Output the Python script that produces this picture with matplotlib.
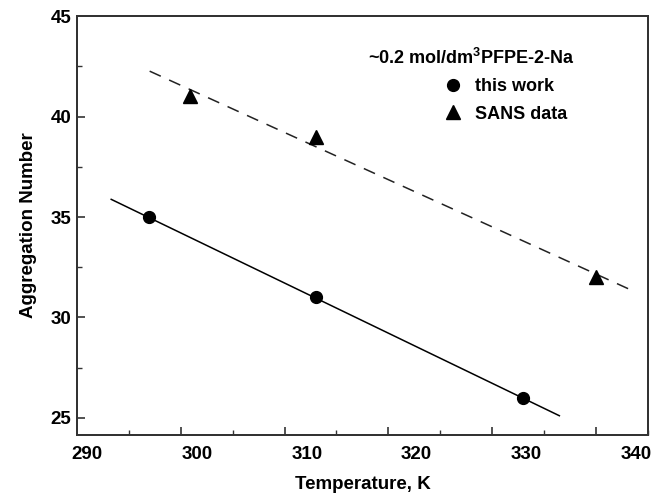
import numpy as np
import matplotlib
matplotlib.use("Agg")
import matplotlib.pyplot as plt

plt.rcParams['font.family'] = ['Liberation Sans', 'DejaVu Sans']
plt.rcParams['font.weight'] = 'bold'
plt.rcParams['mathtext.fontset'] = 'custom'
plt.rcParams['mathtext.bf'] = 'Liberation Sans:bold'
plt.rcParams['mathtext.rm'] = 'Liberation Sans:bold'
plt.rcParams['mathtext.default'] = 'bf'

# data
temp_this = [295.6, 310.8, 329.7]
agg_this = [35.0, 31.0, 26.0]
temp_sans = [299.4, 310.8, 336.3]
agg_sans = [41.0, 39.0, 32.0]

# fitted lines (end points)
fit_this_x = [292.2, 333.0]
fit_this_y = [35.88, 25.11]
fit_sans_x = [295.7, 340.0]
fit_sans_y = [42.26, 31.25]

xticks = [290, 300, 310, 320, 330, 340]
yticks = [25, 30, 35, 40, 45]

fig = plt.figure(figsize=(6.53, 4.94), dpi=100)
ax = fig.add_axes([0.118, 0.1194, 0.874, 0.848])

xlo, xhi = 289.09, 341.05
ax.set_xlim(xlo, xhi)
ax.set_ylim(24.15, 45)

ax.plot(fit_this_x, fit_this_y, color='black', lw=1.1)
ax.plot(fit_sans_x, fit_sans_y, color='#222222', lw=1.1, dashes=(8, 6))
ax.plot(temp_this, agg_this, 'o', color='black', ms=8.5, label='this work')
ax.plot(temp_sans, agg_sans, '^', color='black', ms=10, label='SANS data')

# labels (no tick marks) on the main axis
ax.set_xticks(xticks)
ax.set_xticklabels([str(t) for t in xticks], fontsize=13.5, fontweight='bold')
ax.tick_params(axis='x', which='major', length=0, pad=8)
ax.set_yticks(yticks)
ax.set_yticklabels([str(t) for t in yticks], fontsize=13.5, fontweight='bold')
ax.set_yticks(np.arange(27.5, 45, 5), minor=True)
ax.tick_params(axis='y', which='major', direction='in', length=6, width=1.2,
               color='#333333', pad=4)
ax.tick_params(axis='y', which='minor', direction='in', length=3.5, width=1.0,
               color='#333333')

# tick marks on the bottom axis are offset from the labels in the original
ax2 = ax.twiny()
ax2.set_xlim(xlo, xhi)
ax2.xaxis.set_ticks_position('bottom')
step = 9.46
ax2.set_xticks([xlo + step * k for k in range(1, 6)])
ax2.set_xticks([xlo + step * (k + 0.5) for k in range(0, 6)], minor=True)
ax2.set_xticklabels([])
ax2.tick_params(axis='x', which='major', direction='in', length=6, width=1.2,
                color='#333333', labelbottom=False, labeltop=False)
ax2.tick_params(axis='x', which='minor', direction='in', length=3.5, width=1.0,
                color='#333333', labelbottom=False, labeltop=False)

for a in (ax, ax2):
    for s in a.spines.values():
        s.set_linewidth(1.4)
        s.set_color('#333333')

ax.set_xlabel('Temperature, K', fontsize=13.5, fontweight='bold', labelpad=9)
ax.set_ylabel('Aggregation Number', fontsize=13.5, fontweight='bold', labelpad=10)

fig.text(0.722, 0.882, r'~0.2 mol/dm$^{3}$PFPE-2-Na', fontsize=13,
         fontweight='bold', ha='center', va='center')
ax.legend(loc='upper left', bbox_to_anchor=(0.666, 0.860),
          bbox_transform=fig.transFigure, frameon=False, borderpad=0,
          handletextpad=0.72, labelspacing=0.58, numpoints=1, handlelength=1.0,
          prop={'size': 13, 'weight': 'bold'})

fig.savefig('out.png', dpi=100)
